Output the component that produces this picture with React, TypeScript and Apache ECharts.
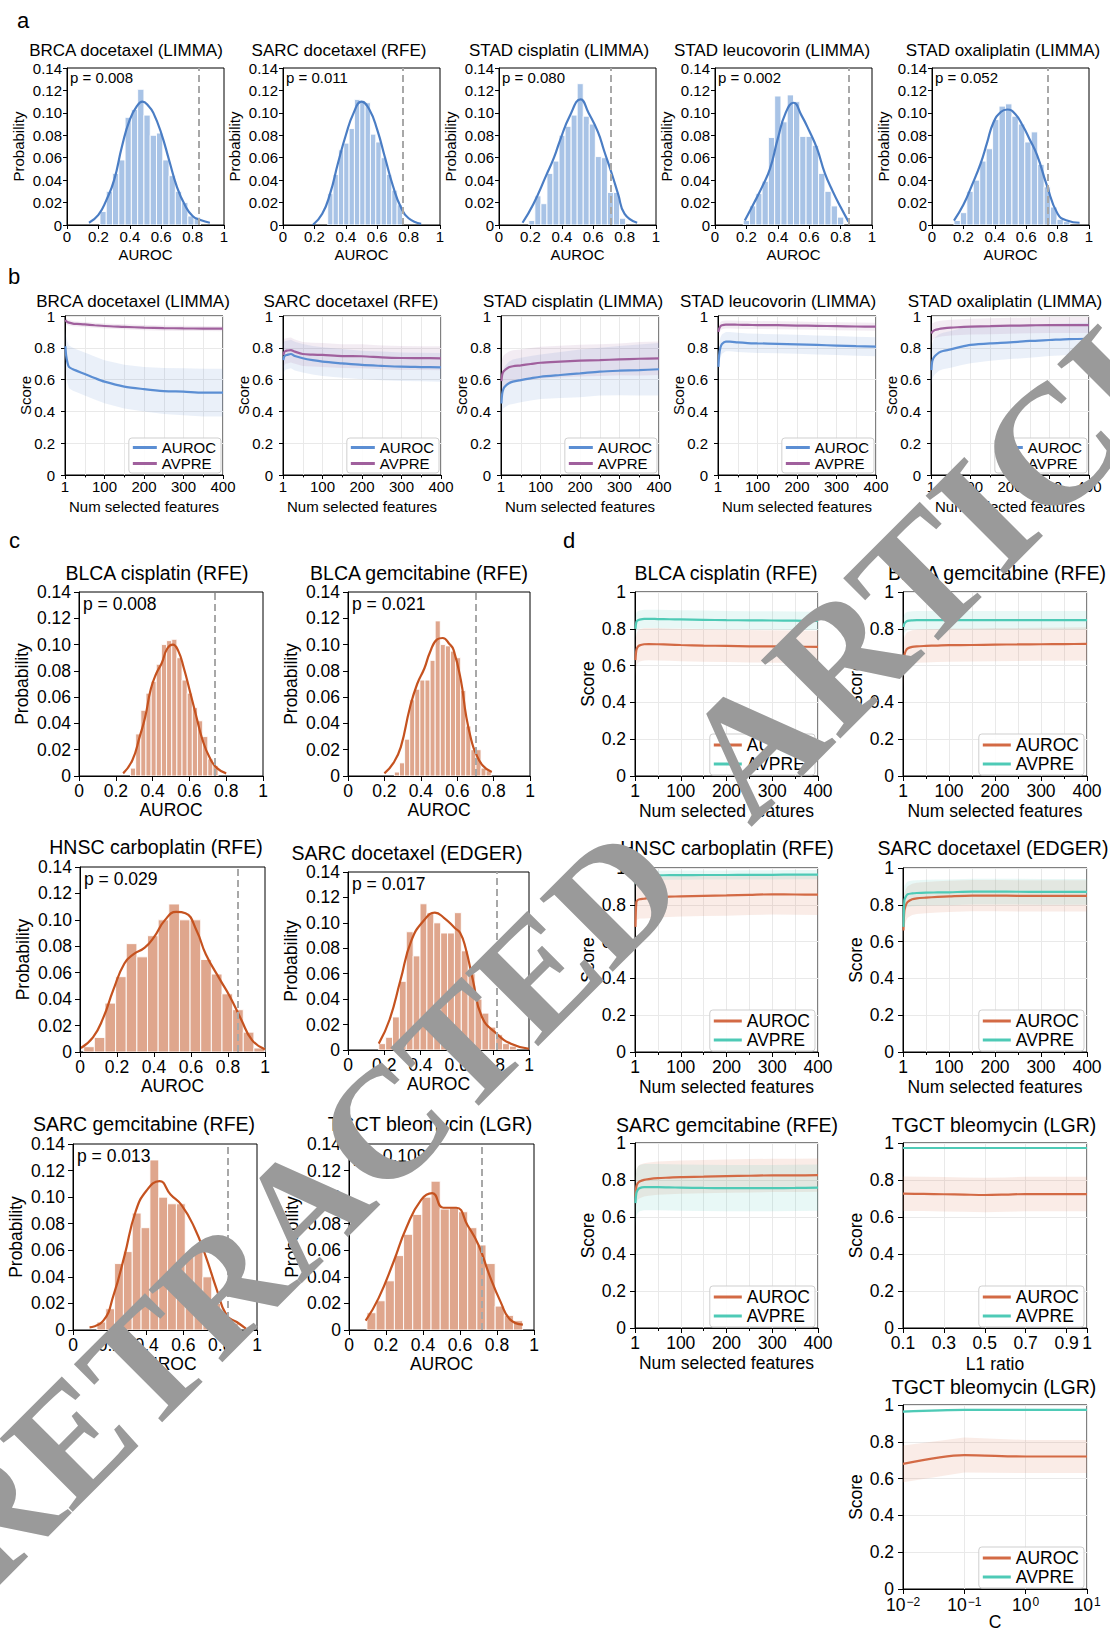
import React, { useEffect, useRef } from "react";
import * as echarts from "echarts";

/* ============================ DATA ============================ */
// ---- Panel a: permutation AUROC histograms (blue) ----
const aTitles = ["BRCA docetaxel (LIMMA)", "SARC docetaxel (RFE)", "STAD cisplatin (LIMMA)", "STAD leucovorin (LIMMA)", "STAD oxaliplatin (LIMMA)"];
const aPValues = ["0.008", "0.011", "0.080", "0.002", "0.052"];
const aObserved = [0.84, 0.76, 0.71, 0.848, 0.742];
const aBinStart = [0.21, 0.285, 0.19, 0.18, 0.14];
const aBinWidth = [0.04, 0.034, 0.0385, 0.04, 0.041];
const a1Prob = [0.012, 0.03, 0.046, 0.058, 0.096, 0.103, 0.121, 0.098, 0.08, 0.082, 0.058, 0.044, 0.03, 0.02, 0.008, 0.007];
const a2Prob = [0.028, 0.045, 0.067, 0.073, 0.086, 0.112, 0.11, 0.109, 0.081, 0.074, 0.06, 0.045, 0.031, 0.018];
const a3Prob = [0.004, 0.026, 0.019, 0.046, 0.057, 0.08, 0.088, 0.098, 0.126, 0.097, 0.09, 0.061, 0.06, 0.029, 0.029, 0.006];
const a4Prob = [0.004, 0.017, 0.028, 0.039, 0.078, 0.115, 0.092, 0.116, 0.11, 0.079, 0.079, 0.071, 0.046, 0.03, 0.017, 0.007];
const a5Prob = [0.004, 0.011, 0.03, 0.04, 0.057, 0.068, 0.094, 0.106, 0.108, 0.097, 0.09, 0.074, 0.083, 0.054, 0.034, 0.016, 0.005, 0.003];
const a1Kde = [[0.14, 0.002], [0.2, 0.009], [0.25, 0.022], [0.3, 0.04], [0.35, 0.07], [0.4, 0.094], [0.45, 0.107], [0.48, 0.11], [0.52, 0.106], [0.55, 0.1], [0.6, 0.082], [0.65, 0.058], [0.7, 0.034], [0.75, 0.018], [0.8, 0.008], [0.85, 0.0045], [0.91, 0.002]];
const a2Kde = [[0.19, 0.0], [0.25, 0.01], [0.3, 0.028], [0.35, 0.055], [0.4, 0.08], [0.45, 0.1], [0.5, 0.11], [0.55, 0.103], [0.6, 0.085], [0.65, 0.06], [0.7, 0.035], [0.75, 0.016], [0.8, 0.006], [0.88, 0.001]];
const a3Kde = [[0.15, 0.002], [0.22, 0.019], [0.3, 0.044], [0.35, 0.06], [0.39, 0.076], [0.45, 0.097], [0.52, 0.112], [0.57, 0.1], [0.63, 0.083], [0.67, 0.066], [0.72, 0.045], [0.76, 0.027], [0.8, 0.01], [0.88, 0.002]];
const a4Kde = [[0.19, 0.004], [0.25, 0.02], [0.3, 0.034], [0.35, 0.05], [0.4, 0.077], [0.45, 0.1], [0.5, 0.109], [0.55, 0.098], [0.6, 0.084], [0.65, 0.068], [0.7, 0.046], [0.75, 0.03], [0.8, 0.016], [0.85, 0.003]];
const a5Kde = [[0.14, 0.004], [0.2, 0.018], [0.25, 0.034], [0.31, 0.055], [0.35, 0.073], [0.39, 0.091], [0.44, 0.101], [0.48, 0.103], [0.53, 0.099], [0.58, 0.088], [0.62, 0.077], [0.67, 0.062], [0.73, 0.036], [0.8, 0.01], [0.86, 0.004], [0.94, 0.002]];

// ---- Panel b: score vs number of selected features (blue / purple) ----
const featX = [1, 3, 6, 10, 20, 30, 50, 75, 100, 150, 200, 250, 300, 350, 400];
const b1Auroc = [0.81, 0.75, 0.71, 0.68, 0.665, 0.655, 0.635, 0.61, 0.587, 0.556, 0.54, 0.528, 0.524, 0.518, 0.518];
const b1AurocSd = [0.1, 0.12, 0.13, 0.135, 0.135, 0.135, 0.135, 0.135, 0.135, 0.138, 0.14, 0.145, 0.148, 0.15, 0.15];
const b1Avpre = [0.975, 0.968, 0.962, 0.958, 0.952, 0.95, 0.947, 0.942, 0.937, 0.932, 0.927, 0.924, 0.922, 0.921, 0.92];
const b1AvpreSd = [0.02, 0.02, 0.018, 0.017, 0.016, 0.016, 0.016, 0.016, 0.016, 0.016, 0.016, 0.016, 0.016, 0.016, 0.016];
const b2Auroc = [0.723, 0.745, 0.752, 0.755, 0.761, 0.748, 0.734, 0.722, 0.713, 0.702, 0.692, 0.686, 0.681, 0.679, 0.677];
const b2AurocSd = [0.1, 0.095, 0.09, 0.09, 0.09, 0.09, 0.09, 0.09, 0.09, 0.09, 0.09, 0.09, 0.09, 0.09, 0.09];
const b2Avpre = [0.755, 0.772, 0.779, 0.782, 0.786, 0.776, 0.761, 0.757, 0.755, 0.748, 0.747, 0.74, 0.736, 0.735, 0.734];
const b2AvpreSd = [0.09, 0.085, 0.08, 0.08, 0.078, 0.076, 0.075, 0.075, 0.075, 0.075, 0.075, 0.075, 0.075, 0.075, 0.075];
const b3Auroc = [0.45, 0.51, 0.54, 0.556, 0.577, 0.587, 0.597, 0.608, 0.618, 0.629, 0.639, 0.65, 0.656, 0.66, 0.665];
const b3AurocSd = [0.1, 0.11, 0.12, 0.13, 0.135, 0.14, 0.14, 0.14, 0.14, 0.145, 0.15, 0.15, 0.155, 0.16, 0.165];
const b3Avpre = [0.59, 0.63, 0.65, 0.66, 0.677, 0.684, 0.69, 0.698, 0.706, 0.713, 0.719, 0.723, 0.727, 0.731, 0.734];
const b3AvpreSd = [0.1, 0.1, 0.1, 0.1, 0.1, 0.1, 0.1, 0.1, 0.1, 0.1, 0.1, 0.1, 0.1, 0.105, 0.105];
const b4Auroc = [0.68, 0.755, 0.8, 0.824, 0.839, 0.839, 0.834, 0.83, 0.828, 0.825, 0.822, 0.818, 0.814, 0.81, 0.807];
const b4AurocSd = [0.08, 0.07, 0.065, 0.062, 0.06, 0.06, 0.06, 0.06, 0.06, 0.06, 0.06, 0.06, 0.06, 0.06, 0.06];
const b4Avpre = [0.9, 0.92, 0.935, 0.942, 0.946, 0.946, 0.945, 0.944, 0.943, 0.942, 0.94, 0.938, 0.936, 0.934, 0.933];
const b4AvpreSd = [0.035, 0.03, 0.028, 0.026, 0.025, 0.025, 0.025, 0.025, 0.025, 0.025, 0.025, 0.025, 0.025, 0.025, 0.025];
const b5Auroc = [0.66, 0.713, 0.734, 0.748, 0.77, 0.78, 0.79, 0.806, 0.818, 0.828, 0.834, 0.843, 0.849, 0.855, 0.857];
const b5AurocSd = [0.1, 0.11, 0.115, 0.115, 0.115, 0.115, 0.115, 0.115, 0.115, 0.11, 0.105, 0.105, 0.1, 0.1, 0.1];
const b5Avpre = [0.89, 0.9, 0.906, 0.912, 0.918, 0.922, 0.927, 0.93, 0.933, 0.936, 0.939, 0.941, 0.943, 0.943, 0.943];
const b5AvpreSd = [0.06, 0.055, 0.05, 0.05, 0.05, 0.05, 0.05, 0.05, 0.05, 0.05, 0.05, 0.05, 0.05, 0.05, 0.05];

// ---- Panel c: permutation AUROC histograms (orange) ----
const cTitles = ["BLCA cisplatin (RFE)", "BLCA gemcitabine (RFE)", "HNSC carboplatin (RFE)", "SARC docetaxel (EDGER)", "SARC gemcitabine (RFE)", "TGCT bleomycin (LGR)"];
const cPValues = ["0.008", "0.021", "0.029", "0.017", "0.013", "0.109"];
const cObserved = [0.744, 0.703, 0.855, 0.819, 0.839, 0.723];
const cBinStart = [0.28, 0.255, 0.02, 0.17, 0.13, 0.097];
const cBinWidth = [0.028, 0.028, 0.0575, 0.038, 0.048, 0.0495];
const c1Prob = [0.006, 0.032, 0.05, 0.063, 0.072, 0.085, 0.1, 0.103, 0.104, 0.09, 0.073, 0.063, 0.052, 0.042, 0.03, 0.013, 0.008];
const c2Prob = [0.003, 0.01, 0.028, 0.058, 0.066, 0.073, 0.073, 0.088, 0.118, 0.1, 0.099, 0.095, 0.09, 0.065, 0.038, 0.02, 0.02, 0.006, 0.004];
const c3Prob = [0.004, 0.011, 0.037, 0.057, 0.082, 0.072, 0.088, 0.1, 0.112, 0.1, 0.1, 0.07, 0.059, 0.044, 0.032, 0.015, 0.003];
const c4Prob = [0.005, 0.01, 0.026, 0.054, 0.093, 0.074, 0.115, 0.108, 0.1, 0.092, 0.092, 0.108, 0.078, 0.06, 0.04, 0.029, 0.018, 0.012, 0.005, 0.003];
const c5Prob = [0.006, 0.016, 0.05, 0.059, 0.088, 0.077, 0.128, 0.1, 0.095, 0.095, 0.055, 0.063, 0.04, 0.02, 0.008, 0.005];
const c6Prob = [0.013, 0.022, 0.037, 0.056, 0.072, 0.087, 0.1, 0.112, 0.091, 0.092, 0.089, 0.077, 0.064, 0.05, 0.018, 0.011, 0.007];
const c1Kde = [[0.24, 0.002], [0.29, 0.012], [0.33, 0.03], [0.36, 0.045], [0.39, 0.066], [0.42, 0.078], [0.45, 0.086], [0.48, 0.097], [0.51, 0.1], [0.54, 0.095], [0.57, 0.082], [0.6, 0.066], [0.64, 0.044], [0.67, 0.028], [0.71, 0.014], [0.75, 0.006], [0.8, 0.002]];
const c2Kde = [[0.2, 0.002], [0.25, 0.01], [0.29, 0.022], [0.34, 0.052], [0.38, 0.07], [0.42, 0.082], [0.45, 0.094], [0.49, 0.104], [0.52, 0.105], [0.56, 0.1], [0.58, 0.096], [0.62, 0.073], [0.65, 0.045], [0.68, 0.026], [0.7, 0.018], [0.74, 0.008], [0.79, 0.003]];
const c3Kde = [[0.005, 0.003], [0.07, 0.011], [0.126, 0.026], [0.18, 0.047], [0.24, 0.067], [0.29, 0.074], [0.35, 0.079], [0.4, 0.087], [0.46, 0.1], [0.52, 0.106], [0.57, 0.105], [0.63, 0.092], [0.68, 0.074], [0.76, 0.054], [0.81, 0.042], [0.87, 0.025], [0.93, 0.009], [1.0, 0.002]];
const c4Kde = [[0.17, 0.005], [0.23, 0.024], [0.29, 0.055], [0.35, 0.086], [0.42, 0.102], [0.48, 0.108], [0.53, 0.104], [0.59, 0.096], [0.62, 0.092], [0.65, 0.08], [0.69, 0.055], [0.74, 0.026], [0.82, 0.013], [0.9, 0.005], [1.0, 0.001]];
const c5Kde = [[0.09, 0.002], [0.165, 0.007], [0.22, 0.026], [0.28, 0.056], [0.34, 0.089], [0.4, 0.105], [0.47, 0.112], [0.53, 0.102], [0.59, 0.094], [0.66, 0.077], [0.72, 0.056], [0.78, 0.031], [0.835, 0.011], [0.89, 0.006], [0.94, 0.001]];
const c6Kde = [[0.09, 0.007], [0.16, 0.024], [0.24, 0.051], [0.31, 0.077], [0.39, 0.098], [0.45, 0.103], [0.51, 0.092], [0.58, 0.092], [0.64, 0.079], [0.7, 0.064], [0.76, 0.041], [0.82, 0.021], [0.87, 0.008], [0.94, 0.004]];

// ---- Panel d: score curves (orange / teal) ----
const dTitles = ["BLCA cisplatin (RFE)", "BLCA gemcitabine (RFE)", "HNSC carboplatin (RFE)", "SARC docetaxel (EDGER)", "SARC gemcitabine (RFE)", "TGCT bleomycin (LGR)", "TGCT bleomycin (LGR)"];
const d1Auroc = [0.63, 0.684, 0.702, 0.71, 0.716, 0.717, 0.716, 0.714, 0.712, 0.709, 0.707, 0.705, 0.704, 0.703, 0.702];
const d1AurocSd = [0.09, 0.088, 0.088, 0.088, 0.088, 0.088, 0.088, 0.088, 0.088, 0.088, 0.088, 0.088, 0.088, 0.088, 0.088];
const d1Avpre = [0.8, 0.837, 0.846, 0.85, 0.854, 0.854, 0.853, 0.852, 0.851, 0.849, 0.847, 0.846, 0.845, 0.844, 0.843];
const d1AvpreSd = [0.05, 0.05, 0.05, 0.05, 0.05, 0.05, 0.05, 0.05, 0.05, 0.05, 0.05, 0.05, 0.05, 0.05, 0.05];
const d2Auroc = [0.575, 0.656, 0.68, 0.693, 0.702, 0.705, 0.707, 0.709, 0.711, 0.712, 0.714, 0.715, 0.716, 0.717, 0.718];
const d2AurocSd = [0.1, 0.095, 0.092, 0.09, 0.09, 0.09, 0.09, 0.09, 0.09, 0.09, 0.09, 0.09, 0.09, 0.09, 0.09];
const d2Avpre = [0.81, 0.828, 0.837, 0.843, 0.846, 0.847, 0.847, 0.847, 0.847, 0.847, 0.847, 0.847, 0.847, 0.847, 0.847];
const d2AvpreSd = [0.05, 0.05, 0.05, 0.05, 0.05, 0.05, 0.05, 0.05, 0.05, 0.05, 0.05, 0.05, 0.05, 0.05, 0.05];
const d3Auroc = [0.68, 0.815, 0.826, 0.83, 0.833, 0.837, 0.842, 0.844, 0.846, 0.849, 0.851, 0.854, 0.857, 0.856, 0.855];
const d3AurocSd = [0.08, 0.1, 0.105, 0.105, 0.108, 0.11, 0.11, 0.11, 0.11, 0.11, 0.11, 0.11, 0.11, 0.11, 0.11];
const d3Avpre = [0.915, 0.951, 0.957, 0.959, 0.96, 0.96, 0.96, 0.961, 0.961, 0.962, 0.962, 0.963, 0.963, 0.964, 0.964];
const d3AvpreSd = [0.04, 0.03, 0.025, 0.025, 0.025, 0.025, 0.025, 0.025, 0.025, 0.025, 0.025, 0.025, 0.025, 0.025, 0.025];
const d4Auroc = [0.66, 0.77, 0.797, 0.815, 0.83, 0.835, 0.839, 0.843, 0.846, 0.85, 0.85, 0.849, 0.848, 0.848, 0.848];
const d4AurocSd = [0.09, 0.09, 0.088, 0.086, 0.085, 0.085, 0.085, 0.085, 0.085, 0.085, 0.085, 0.085, 0.085, 0.085, 0.085];
const d4Avpre = [0.68, 0.826, 0.844, 0.857, 0.862, 0.864, 0.866, 0.867, 0.868, 0.872, 0.872, 0.871, 0.87, 0.87, 0.87];
const d4AvpreSd = [0.08, 0.075, 0.072, 0.07, 0.07, 0.07, 0.07, 0.07, 0.07, 0.07, 0.07, 0.07, 0.07, 0.07, 0.07];
const d5Auroc = [0.71, 0.765, 0.783, 0.792, 0.801, 0.805, 0.81, 0.813, 0.816, 0.818, 0.821, 0.823, 0.825, 0.825, 0.826];
const d5AurocSd = [0.09, 0.09, 0.09, 0.09, 0.09, 0.09, 0.09, 0.09, 0.09, 0.09, 0.09, 0.09, 0.09, 0.09, 0.09];
const d5Avpre = [0.675, 0.73, 0.747, 0.756, 0.761, 0.761, 0.761, 0.76, 0.759, 0.757, 0.756, 0.756, 0.756, 0.757, 0.759];
const d5AvpreSd = [0.13, 0.125, 0.125, 0.125, 0.125, 0.125, 0.125, 0.125, 0.125, 0.125, 0.125, 0.125, 0.125, 0.125, 0.125];
const l1X = [0.1, 0.2, 0.3, 0.4, 0.5, 0.6, 0.7, 0.8, 0.9, 1.0];
const l1Ticks = [0.1, 0.3, 0.5, 0.7, 0.9, 1];
const d6Auroc = [0.726, 0.725, 0.723, 0.721, 0.719, 0.721, 0.724, 0.724, 0.724, 0.724];
const d6AurocSd = [0.093, 0.093, 0.093, 0.093, 0.093, 0.093, 0.093, 0.093, 0.093, 0.093];
const d6Avpre = [0.973, 0.973, 0.973, 0.973, 0.973, 0.973, 0.973, 0.973, 0.973, 0.973];
const d6AvpreSd = [0.006, 0.006, 0.006, 0.006, 0.006, 0.006, 0.006, 0.006, 0.006, 0.006];
const cParamX = [0.01, 0.1, 1, 10];
const d7Auroc = [0.68, 0.728, 0.72, 0.72];
const d7AurocSd = [0.1, 0.095, 0.09, 0.09];
const d7Avpre = [0.964, 0.973, 0.973, 0.973];
const d7AvpreSd = [0.008, 0.006, 0.006, 0.006];

// ---- watermark words ----
const watermarkWords = ["RETRACTED", "ARTICLE"];

/* ============================ LAYOUT / STYLE ============================ */
const W = 1110;
const H = 1631;
const FONT = '"Liberation Sans", Arial, Helvetica, sans-serif';
type Box = { l: number; t: number; w: number; h: number };

const A_BOXES: Box[] = [67, 283, 499, 715, 932].map((l) => ({ l, t: 68, w: 157, h: 157 }));
const B_BOXES: Box[] = [65, 283, 501, 718, 931].map((l) => ({ l, t: 316, w: 158, h: 159 }));
const C_BOXES: Box[] = [
  { l: 79, t: 592, w: 184, h: 184 },
  { l: 348, t: 592, w: 182, h: 184 },
  { l: 80, t: 867, w: 185, h: 185 },
  { l: 348, t: 872, w: 181, h: 178 },
  { l: 73, t: 1144, w: 184, h: 186 },
  { l: 349, t: 1144, w: 185, h: 186 },
];
const D_BOXES: Box[] = [
  { l: 635, t: 592, w: 183, h: 184 },
  { l: 903, t: 592, w: 184, h: 184 },
  { l: 635, t: 868, w: 183, h: 184 },
  { l: 903, t: 868, w: 184, h: 184 },
  { l: 635, t: 1143, w: 183, h: 185 },
  { l: 903, t: 1143, w: 184, h: 185 },
  { l: 903, t: 1405, w: 184, h: 184 },
];
const A_TITLE_POS = [[126, 50], [339, 50], [559, 50], [772, 50], [1003, 50]];
const B_TITLE_POS = [[133, 301], [351, 301], [573, 301], [778, 301], [1005, 301]];
const C_TITLE_POS = [[157, 573], [419, 573], [156, 847], [407, 853], [144, 1124], [430, 1124]];
const D_TITLE_POS = [[726, 573], [997, 573], [727, 848], [993, 848], [727, 1125], [994, 1125], [994, 1387]];
const WATERMARK_POS = [[303, 1206], [982, 516]];
const WATERMARK_SIZE = [158, 170];
const WATERMARK_ANGLE = [45, 45];

const A_STYLE = { bar: "#a8c3e6", kde: "#4a7dc4", tick: 15, name: 15, title: 17, ptext: 15, yGap: 41, xGap: 22, pdx: 3, pdy: 9, tickLen: 4, xMargin: 4, yMargin: 5 };
const C_STYLE = { bar: "#dfa68d", kde: "#c5521f", tick: 17.5, name: 17.5, title: 19.5, ptext: 17.5, yGap: 48, xGap: 25, pdx: 4, pdy: 12, tickLen: 5, xMargin: 6, yMargin: 8 };
const B_STYLE = { aur: "#5b8ed3", avp: "#a0609d", aurBand: "rgba(91,142,211,0.13)", avpBand: "rgba(160,96,157,0.12)", tick: 15, name: 15, title: 17, legend: 15, yGap: 32, xGap: 24, tickLen: 4, xMargin: 4, yMargin: 10, icon: 24, lr: 2, lb: 2 };
const D_STYLE = { aur: "#d36a45", avp: "#4ecab6", aurBand: "rgba(224,125,95,0.15)", avpBand: "rgba(78,202,182,0.13)", tick: 17.5, name: 17.5, title: 19.5, legend: 17.5, yGap: 38, xGap: 26, tickLen: 5, xMargin: 6, yMargin: 9, icon: 28, lr: 3, lb: 1 };

const near = (a: number, b: number) => Math.abs(a - b) < 1e-9;
const fmtUnit = (v: number) => (near(v, 0) ? "0" : near(v, 1) ? "1" : v.toFixed(1));
const fmtProb = (v: number) => (near(v, 0) ? "0" : v.toFixed(2));
const fmtFeat = (v: number) => (near(v, 0) ? "1" : String(Math.round(v)));
const fmtLog = (v: number) => {
  const e = Math.round(Math.log10(v));
  return "{b|10}{e|" + (e < 0 ? "\u2212" + -e : String(e)) + "}";
};

function buildOption() {
  const grid: any[] = [];
  const xAxis: any[] = [];
  const yAxis: any[] = [];
  const series: any[] = [];
  const legend: any[] = [];
  const graphic: any[] = [];

  const addText = (x: number, y: number, text: string, size: number, align = "center") => {
    graphic.push({
      type: "text", x, y, silent: true, z: 10,
      style: { text, fontSize: size, fontFamily: FONT, fill: "#000", align, verticalAlign: "middle", textAlign: align, textVerticalAlign: "middle" },
    });
  };

  const addGrid = (b: Box) => {
    const gi = grid.length;
    grid.push({ left: b.l, top: b.t, width: b.w, height: b.h, show: true, borderColor: "#000", borderWidth: 1, backgroundColor: "transparent", containLabel: false, outerBoundsMode: "none" });
    return gi;
  };

  const axisBase = (st: any, gi: number, name: string, gap: number, margin: number, z: number) => ({
    gridIndex: gi, name, nameLocation: "middle", nameGap: gap, nameMoveOverlap: false, z,
    nameTextStyle: { fontSize: st.name, color: "#000", fontFamily: FONT },
    axisLine: { show: true, onZero: false, lineStyle: { color: "#000", width: 1 } },
    axisTick: { show: true, inside: false, length: st.tickLen, lineStyle: { color: "#000", width: 1 } },
    axisLabel: { show: true, color: "#000", fontSize: st.tick, fontFamily: FONT, margin, hideOverlap: false },
  });

  // ---------- histograms ----------
  const addHist = (b: Box, st: any, title: string, tpos: number[], pval: string, observed: number, start: number, width: number, probs: number[], kde: number[][]) => {
    const gi = addGrid(b);
    const xa: any = axisBase(st, gi, "AUROC", st.xGap, st.xMargin, 6);
    xa.type = "value"; xa.min = 0; xa.max = 1; xa.interval = 0.2;
    xa.axisLabel.formatter = fmtUnit; xa.splitLine = { show: false };
    xAxis.push(xa);
    const ya: any = axisBase(st, gi, "Probability", st.yGap, st.yMargin, 6);
    ya.type = "value"; ya.min = 0; ya.max = 0.14; ya.interval = 0.02;
    ya.axisLabel.formatter = fmtProb; ya.splitLine = { show: false };
    yAxis.push(ya);
    const bins = probs.map((p, i) => [start + i * width, start + (i + 1) * width, p]);
    const fill = st.bar;
    series.push({
      type: "custom", xAxisIndex: gi, yAxisIndex: gi, silent: true, z: 2, data: bins,
      encode: { x: [0, 1], y: 2 },
      renderItem: (params: any, api: any) => {
        const tl = api.coord([api.value(0), api.value(2)]);
        const br = api.coord([api.value(1), 0]);
        return { type: "rect", shape: { x: tl[0], y: tl[1], width: br[0] - tl[0], height: br[1] - tl[1] }, style: { fill, stroke: "#ffffff", lineWidth: 0.9 } };
      },
    });
    series.push({
      type: "line", xAxisIndex: gi, yAxisIndex: gi, data: kde, smooth: 0.5, symbol: "none", showSymbol: false, silent: true, z: 4,
      lineStyle: { color: st.kde, width: 2.2 },
      markLine: { silent: true, symbol: ["none", "none"], label: { show: false }, lineStyle: { color: "#a8a8a8", type: [7, 4], width: 2 }, data: [{ xAxis: observed }] },
    });
    addText(tpos[0], tpos[1], title, st.title);
    addText(b.l + st.pdx, b.t + st.pdy, "p = " + pval, st.ptext, "left");
  };

  // ---------- score curves ----------
  const addCurves = (b: Box, st: any, title: string, tpos: number[], kind: string, xs: number[], aur: number[], aurSd: number[], avp: number[], avpSd: number[]) => {
    const gi = addGrid(b);
    const xName = kind === "feat" ? "Num selected features" : kind === "l1" ? "L1 ratio" : "C";
    const gap = kind === "feat" ? st.xGap : kind === "l1" ? st.xGap + 1 : st.xGap - 2;
    const xa: any = axisBase(st, gi, xName, gap, st.xMargin, 0);
    xa.splitLine = { show: true, lineStyle: { color: "#e9e9e9", width: 1 } };
    if (kind === "feat") {
      xa.type = "value"; xa.min = 0; xa.max = 400; xa.interval = 100;
      xa.axisLabel.formatter = fmtFeat;
      xa.minorTick = { show: true, splitNumber: 2, length: st.tickLen * 0.6, lineStyle: { color: "#000", width: 1 } };
      xa.minorSplitLine = { show: true, lineStyle: { color: "#e9e9e9", width: 1 } };
    } else if (kind === "l1") {
      xa.type = "value"; xa.min = 0.1; xa.max = 1;
      xa.axisTick.customValues = l1Ticks;
      xa.axisLabel.customValues = l1Ticks;
      xa.axisLabel.formatter = fmtUnit;
    } else {
      xa.type = "log"; xa.logBase = 10; xa.min = 0.01; xa.max = 10;
      xa.axisLabel.formatter = fmtLog;
      xa.axisLabel.margin = 7;
      xa.axisLabel.rich = {
        b: { fontSize: st.tick, fontFamily: FONT, color: "#000" },
        e: { fontSize: 12, fontFamily: FONT, color: "#000", verticalAlign: "top", padding: [0, 0, 0, 1] },
      };
    }
    xAxis.push(xa);
    const ya: any = axisBase(st, gi, "Score", st.yGap, st.yMargin, 0);
    ya.type = "value"; ya.min = 0; ya.max = 1; ya.interval = 0.2;
    ya.axisLabel.formatter = fmtUnit;
    ya.splitLine = { show: true, lineStyle: { color: "#e9e9e9", width: 1 } };
    yAxis.push(ya);

    const band = (mean: number[], sd: number[], fill: string, name: string) => {
      const rows = xs.map((x, i) => [x, mean[i] - sd[i], mean[i] + sd[i]]);
      series.push({
        type: "custom", name, xAxisIndex: gi, yAxisIndex: gi, silent: true, z: 1, data: rows,
        encode: { x: 0, y: [1, 2] },
        renderItem: (params: any, api: any) => {
          if (params.dataIndex !== 0) return null;
          const top = rows.map((r) => api.coord([r[0], r[2]]));
          const bot = rows.slice().reverse().map((r) => api.coord([r[0], r[1]]));
          return { type: "polygon", shape: { points: top.concat(bot) }, style: { fill } };
        },
      });
    };
    band(aur, aurSd, st.aurBand, "AUROC band");
    band(avp, avpSd, st.avpBand, "AVPRE band");
    const line = (mean: number[], color: string, name: string) => {
      series.push({
        type: "line", name, xAxisIndex: gi, yAxisIndex: gi, data: xs.map((x, i) => [x, mean[i]]),
        smooth: 0.3, symbol: "none", showSymbol: false, silent: true, z: 5,
        lineStyle: { color, width: 2.2 }, itemStyle: { color },
      });
    };
    line(aur, st.aur, "AUROC");
    line(avp, st.avp, "AVPRE");
    legend.push({
      orient: "vertical", right: W - (b.l + b.w) + st.lr, bottom: H - (b.t + b.h) + st.lb,
      itemWidth: st.icon, itemHeight: 3, itemGap: 1, icon: "rect", selectedMode: false,
      padding: [2, 5, 2, 4], borderColor: "#cfcfcf", borderWidth: 1, borderRadius: 3, backgroundColor: "rgba(255,255,255,0.85)",
      textStyle: { fontSize: st.legend, color: "#000", fontFamily: FONT },
      data: [
        { name: "AUROC", icon: "rect", itemStyle: { color: st.aur } },
        { name: "AVPRE", icon: "rect", itemStyle: { color: st.avp } },
      ],
    });
    addText(tpos[0], tpos[1], title, st.title);
  };

  // panel a
  const aProbs = [a1Prob, a2Prob, a3Prob, a4Prob, a5Prob];
  const aKdes = [a1Kde, a2Kde, a3Kde, a4Kde, a5Kde];
  aTitles.forEach((t, i) => addHist(A_BOXES[i], A_STYLE, t, A_TITLE_POS[i], aPValues[i], aObserved[i], aBinStart[i], aBinWidth[i], aProbs[i], aKdes[i]));

  // panel b
  const bSets = [
    [b1Auroc, b1AurocSd, b1Avpre, b1AvpreSd],
    [b2Auroc, b2AurocSd, b2Avpre, b2AvpreSd],
    [b3Auroc, b3AurocSd, b3Avpre, b3AvpreSd],
    [b4Auroc, b4AurocSd, b4Avpre, b4AvpreSd],
    [b5Auroc, b5AurocSd, b5Avpre, b5AvpreSd],
  ];
  aTitles.forEach((t, i) => addCurves(B_BOXES[i], B_STYLE, t, B_TITLE_POS[i], "feat", featX, bSets[i][0], bSets[i][1], bSets[i][2], bSets[i][3]));

  // panel c
  const cProbs = [c1Prob, c2Prob, c3Prob, c4Prob, c5Prob, c6Prob];
  const cKdes = [c1Kde, c2Kde, c3Kde, c4Kde, c5Kde, c6Kde];
  cTitles.forEach((t, i) => addHist(C_BOXES[i], C_STYLE, t, C_TITLE_POS[i], cPValues[i], cObserved[i], cBinStart[i], cBinWidth[i], cProbs[i], cKdes[i]));

  // panel d
  const dSets: any[] = [
    ["feat", featX, d1Auroc, d1AurocSd, d1Avpre, d1AvpreSd],
    ["feat", featX, d2Auroc, d2AurocSd, d2Avpre, d2AvpreSd],
    ["feat", featX, d3Auroc, d3AurocSd, d3Avpre, d3AvpreSd],
    ["feat", featX, d4Auroc, d4AurocSd, d4Avpre, d4AvpreSd],
    ["feat", featX, d5Auroc, d5AurocSd, d5Avpre, d5AvpreSd],
    ["l1", l1X, d6Auroc, d6AurocSd, d6Avpre, d6AvpreSd],
    ["log", cParamX, d7Auroc, d7AurocSd, d7Avpre, d7AvpreSd],
  ];
  dTitles.forEach((t, i) => addCurves(D_BOXES[i], D_STYLE, t, D_TITLE_POS[i], dSets[i][0], dSets[i][1], dSets[i][2], dSets[i][3], dSets[i][4], dSets[i][5]));

  // panel letters
  addText(17, 20, "a", 22, "left");
  addText(8, 276, "b", 22, "left");
  addText(9, 540, "c", 22, "left");
  addText(563, 540, "d", 22, "left");

  // watermark
  watermarkWords.forEach((word, i) => {
    graphic.push({
      type: "text", x: WATERMARK_POS[i][0], y: WATERMARK_POS[i][1], rotation: (WATERMARK_ANGLE[i] * Math.PI) / 180, z: 100, silent: true,
      style: {
        text: word, fontSize: WATERMARK_SIZE[i], fontWeight: "bold", fontFamily: '"Liberation Serif", "Times New Roman", serif',
        fill: "#9a9a9a", align: "center", verticalAlign: "middle", textAlign: "center", textVerticalAlign: "middle",
      },
    });
  });

  return {
    animation: false,
    backgroundColor: "#ffffff",
    textStyle: { fontFamily: FONT, color: "#000" },
    grid, xAxis, yAxis, series, legend, graphic,
  };
}

export default function App() {
  const ref = useRef<HTMLDivElement>(null);
  useEffect(() => {
    if (!ref.current) return;
    const chart = echarts.init(ref.current, undefined, { renderer: "svg", width: W, height: H });
    chart.setOption(buildOption() as any);
    return () => chart.dispose();
  }, []);
  return <div ref={ref} style={{ position: "absolute", left: 0, top: 0, width: W, height: H, background: "#fff" }} />;
}
